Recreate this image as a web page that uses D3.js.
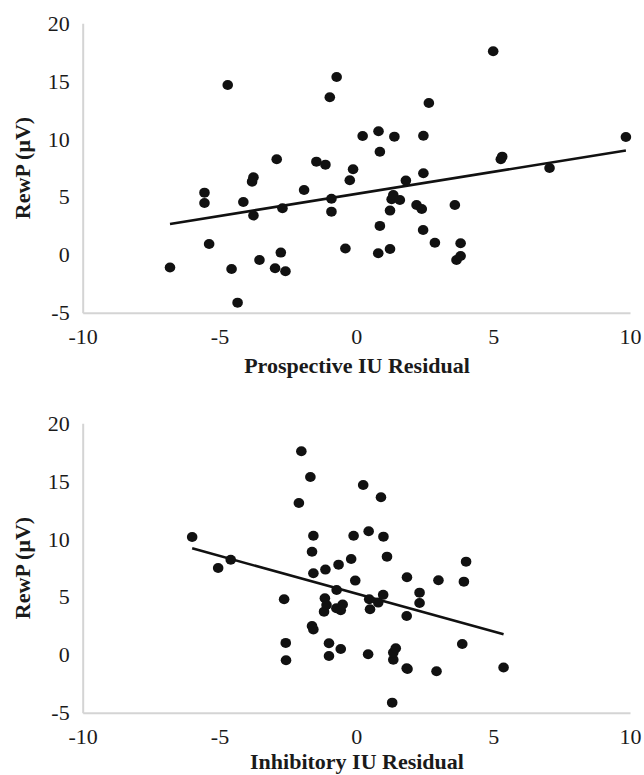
<!DOCTYPE html>
<html>
<head>
<meta charset="utf-8">
<script src="https://cdn.jsdelivr.net/npm/d3@7"></script>
<style>
  body { margin: 0; background: #fff; }
  svg text { font-family: "Liberation Serif", "Times New Roman", serif; fill: #1a1a1a; }
</style>
</head>
<body>
<svg id="chart" width="644" height="775"></svg>
<script>
// data (same RewP values, different IU residual on x)
var prospX = [-6.81, -5.55, -5.55, -5.38, -4.70, -4.56, -4.34, -4.13, -3.81, -3.76, -3.76, -3.54, -2.97, -2.91, -2.76, -2.70, -2.59, -1.91, -1.46, -1.13, -0.97, -0.91, -0.91, -0.72, -0.40, -0.24, -0.12, 0.23, 0.81, 0.86, 0.80, 0.86, 1.23, 1.23, 1.29, 1.35, 1.39, 1.59, 1.81, 2.20, 2.39, 2.45, 2.45, 2.44, 2.65, 2.87, 3.60, 3.66, 3.81, 3.81, 5.00, 5.28, 5.33, 7.06, 9.85];
var prospY = [-1.1, 5.37, 4.48, 0.94, 14.67, -1.22, -4.13, 4.57, 6.32, 6.70, 3.39, -0.44, -1.16, 8.25, 0.19, 4.02, -1.42, 5.60, 8.05, 7.79, 13.61, 4.85, 3.73, 15.36, 0.54, 6.44, 7.39, 10.27, 10.67, 8.91, 0.14, 2.50, 0.51, 3.82, 4.80, 5.17, 10.21, 4.74, 6.41, 4.31, 3.96, 10.29, 7.04, 2.15, 13.12, 1.05, 4.31, -0.44, -0.10, 1.0, 17.58, 8.25, 8.48, 7.50, 10.18];

var inhibX = [-6.00, -5.05, -4.59, -2.64, -2.58, -2.57, -2.10, -2.01, -1.68, -1.62, -1.62, -1.57, -1.57, -1.57, -1.15, -1.13, -1.18, -1.09, -1.00, -1.00, -0.65, -0.72, -0.73, -0.57, -0.50, -0.57, -0.19, -0.10, -0.04, 0.25, 0.45, 0.43, 0.47, 0.50, 0.80, 0.90, 0.99, 0.98, 1.12, 1.31, 1.35, 1.35, 1.44, 1.85, 1.84, 1.84, 1.87, 2.31, 2.31, 2.93, 3.00, 3.87, 3.93, 4.01, 5.38];
var inhibY = [10.18, 7.50, 8.22, 4.80, 1.03, -0.47, 13.12, 17.58, 15.36, 8.91, 2.49, 2.18, 10.29, 7.04, 4.89, 7.36, 3.73, 4.31, 1.0, -0.10, 7.79, 5.60, 4.02, 3.85, 4.34, 0.51, 8.28, 10.29, 6.41, 14.67, 10.67, 0.05, 4.80, 3.94, 4.51, 13.61, 10.21, 5.18, 8.48, -4.13, -0.43, 0.19, 0.57, 6.70, 3.36, -1.16, -1.22, 5.37, 4.48, -1.42, 6.44, 0.94, 6.32, 8.05, -1.1];

// linear trendlines [slope, intercept]
var prospTrend = [0.381, 5.26];
var inhibTrend = [-0.653, 5.28];

var xTicks = [-10, -5, 0, 5, 10];
var yTicks = [-5, 0, 5, 10, 15, 20];
var yLabel = "RewP (\u03bcV)";

var svg = d3.select("#chart");

// plain hyphen for negatives, like the original
var fmt = function (d) { return String(d); };

function panel(top, xs, ys, trend, xTitle, titleY) {
    var g = svg.append("g").attr("transform", "translate(0," + top + ")");

    var x = d3.scaleLinear().domain([-10, 10]).range([82.7, 630]);
    var y = d3.scaleLinear().domain([-5, 20]).range([289.4, 0]);

    // axes, no tick marks, light gray domain lines
    var xAxis = g.append("g")
        .attr("transform", "translate(0," + y(-5) + ")")
        .call(d3.axisBottom(x).tickValues(xTicks).tickFormat(fmt).tickSize(0).tickSizeOuter(0).tickPadding(16));
    var yAxis = g.append("g")
        .attr("transform", "translate(" + x(-10) + ",0)")
        .call(d3.axisLeft(y).tickValues(yTicks).tickFormat(fmt).tickSize(0).tickSizeOuter(0).tickPadding(13));

    [xAxis, yAxis].forEach(function (a) {
        a.select(".domain").attr("stroke", "#d4d4d4").attr("stroke-width", 2);
        a.selectAll("text").attr("font-size", "22px").attr("fill", "#1a1a1a")
            .attr("font-family", "Liberation Serif, Times New Roman, serif");
    });

    var pts = xs.map(function (v, i) { return [v, ys[i]]; });

    var xr = d3.extent(xs);
    var line = d3.line().x(function (d) { return x(d); }).y(function (d) { return y(trend[0] * d + trend[1]); });
    g.append("path")
        .attr("d", line(xr))
        .attr("fill", "none")
        .attr("stroke", "#111")
        .attr("stroke-width", 2.6);

    g.selectAll("ellipse").data(pts).enter().append("ellipse")
        .attr("cx", function (d) { return x(d[0]); })
        .attr("cy", function (d) { return y(d[1]); })
        .attr("rx", 5.3)
        .attr("ry", 5)
        .attr("fill", "#111");

    g.append("text")
        .attr("x", 357)
        .attr("y", titleY)
        .attr("text-anchor", "middle")
        .attr("font-size", "22px")
        .attr("font-weight", "bold")
        .text(xTitle);

    g.append("text")
        .attr("transform", "translate(30," + y(7.5) + ") rotate(-90)")
        .attr("text-anchor", "middle")
        .attr("font-size", "22px")
        .attr("font-weight", "bold")
        .text(yLabel);
}

panel(23.3, prospX, prospY, prospTrend, "Prospective IU Residual", 350);
panel(423.3, inhibX, inhibY, inhibTrend, "Inhibitory IU Residual", 346);
</script>
</body>
</html>
